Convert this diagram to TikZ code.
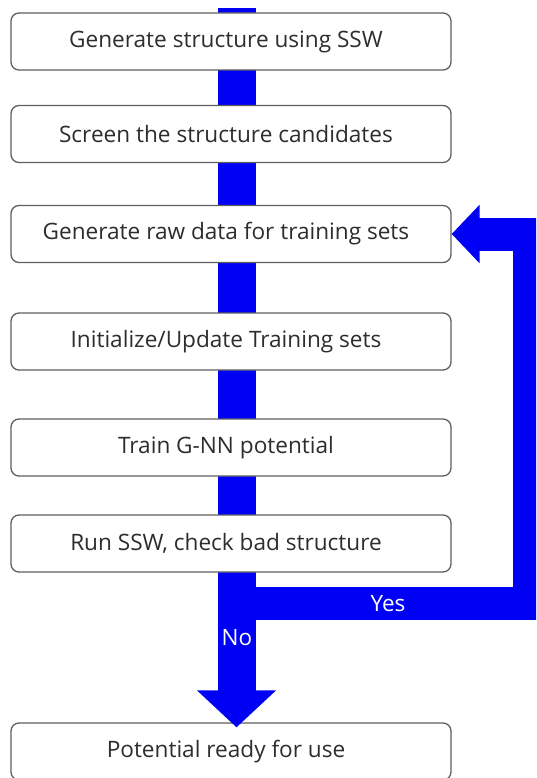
\documentclass[tikz,border=0pt]{standalone}
\usepackage{fontspec}
\setmainfont{Open Sans}
\usetikzlibrary{arrows.meta,calc}
\definecolor{flowblue}{RGB}{0,0,245}
\definecolor{boxline}{RGB}{95,95,95}
\definecolor{boxtext}{RGB}{45,45,45}
\tikzset{
  stepbox/.style={draw=boxline, line width=1.3pt, fill=white, rounded corners=8pt,
    minimum width=440pt, minimum height=57pt, inner sep=0pt},
  steptext/.style={font=\fontsize{22.6}{27}\selectfont, text=boxtext, inner sep=0pt},
  trunk/.style={draw=flowblue, line width=38pt,
    -{Triangle[width=77pt,length=37pt]}},
  loop/.style={draw=flowblue, line width=33pt, line join=miter,
    -{Triangle[width=57pt,length=28pt]}},
  flowlabel/.style={text=white, font=\fontsize{22.5}{26}\selectfont, inner sep=0pt},
}
\newcommand{\steplabel}[1]{\node[steptext] at ([xshift=-5pt]#1.center)}
\begin{document}
\begin{tikzpicture}[x=1pt,y=-1pt]
\useasboundingbox (0,0) rectangle (536,778);
\clip (0,0) rectangle (536,778);

% anchor points for the main flow and the feedback loop
\coordinate (start) at (236.5,8);
\coordinate (split) at (236.5,603.5);
\coordinate (loopx) at (529.5,0);

% final box (needed as the target of the main arrow)
\node[stepbox] (ready) at (231,751.5) {};

% main downward arrow, behind the boxes
\draw[trunk] (start) -- ([yshift=-5pt]ready.north -| start);

% feedback loop back to the raw-data step
\node[stepbox] (raw) at (231,234) {};
\draw[loop] (split) -- (split -| loopx) -- (loopx |- raw.east) -- (raw.east);

% process steps
\node[stepbox] (gen)    at (231,41.5)  {};
\node[stepbox] (screen) at (231,134)   {};
\node[stepbox] (init)   at (231,341.5) {};
\node[stepbox] (train)  at (231,447.5) {};
\node[stepbox] (check)  at (231,543.5) {};

% step texts, set a little left of the box centres
\steplabel{gen} {Generate structure using SSW};
\steplabel{screen} {Screen the structure candidates};
\steplabel{raw} {Generate raw data for training sets};
\steplabel{init} {Initialize/Update Training sets};
\steplabel{train} {Train G-NN potential};
\steplabel{check} {Run SSW, check bad structure};
\steplabel{ready} {Potential ready for use};

% branch labels
\node[flowlabel] (yes) at (388,604) {Yes};
\node[flowlabel] (no)  at (237,638) {No};
\end{tikzpicture}
\end{document}
